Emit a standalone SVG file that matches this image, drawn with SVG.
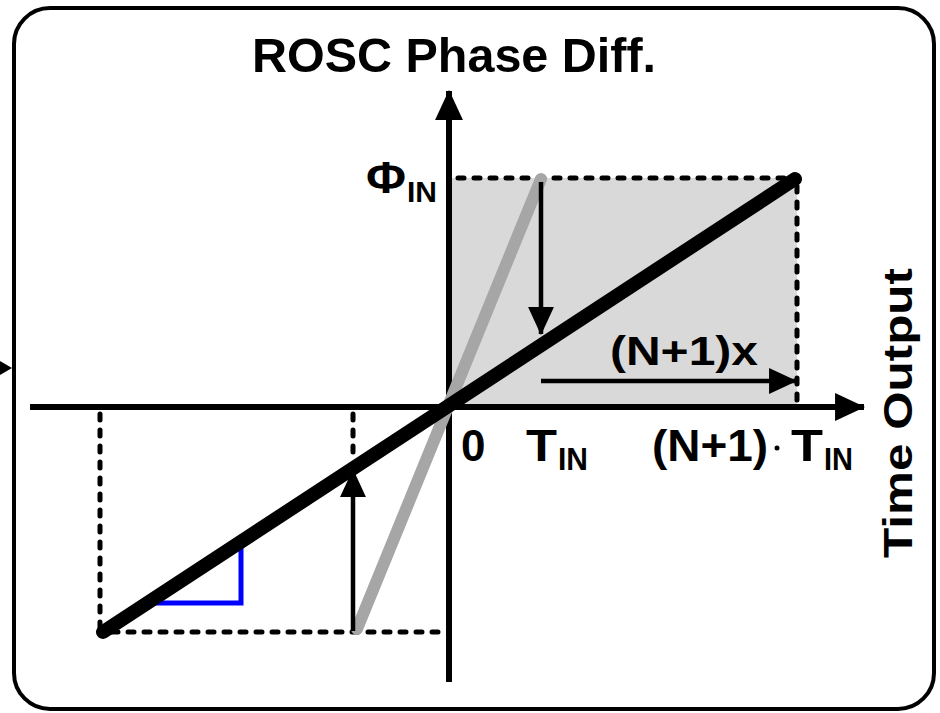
<svg xmlns="http://www.w3.org/2000/svg" width="940" height="713" viewBox="0 0 940 713">
  <style>
    .t { font-family: "Liberation Sans", Arial, Helvetica, sans-serif; font-weight: bold; fill: #000; }
    .dash { fill: none; stroke: #000; stroke-width: 5; stroke-dasharray: 6 10; stroke-linecap: round; }
    .axis { fill: none; stroke: #000; stroke-width: 6; }
    .arr { fill: none; stroke: #000; stroke-width: 4.5; }
  </style>
  <defs>
    <marker id="ah-axis" markerUnits="userSpaceOnUse" markerWidth="30" markerHeight="30" viewBox="0 0 28 26" refX="27" refY="13" orient="auto">
      <polygon points="0,0 28,13 0,26" fill="#000"/>
    </marker>
    <marker id="ah" markerUnits="userSpaceOnUse" markerWidth="28" markerHeight="28" viewBox="0 0 26 24" refX="25" refY="12" orient="auto">
      <polygon points="0,0 26,12 0,24" fill="#000"/>
    </marker>
  </defs>
  <rect width="940" height="713" fill="#fff"/>

  <g id="frame">
    <rect x="14" y="8" width="920" height="701" rx="36" ry="36" fill="none" stroke="#000" stroke-width="4"/>
    <polygon points="0,361 12,368 0,375" fill="#000"/>
  </g>

  <g id="region">
    <rect x="450" y="178" width="347" height="229" fill="#d9d9d9"/>
  </g>

  <g id="guides">
    <line class="dash" x1="458" y1="178" x2="797" y2="178"/>
    <line class="dash" x1="797" y1="186" x2="797" y2="407"/>
    <line class="dash" x1="100" y1="414" x2="100" y2="632"/>
    <line class="dash" x1="112" y1="632" x2="446" y2="632"/>
    <line class="dash" x1="353" y1="414" x2="353" y2="462"/>
  </g>

  <g id="axes">
    <line class="axis" x1="30" y1="407" x2="864" y2="407" marker-end="url(#ah-axis)"/>
    <line class="axis" x1="449" y1="682" x2="449" y2="91" marker-end="url(#ah-axis)"/>
  </g>

  <g id="slope">
    <polyline points="150,603 241,603 241,545" fill="none" stroke="#0000ff" stroke-width="5"/>
  </g>

  <g id="curves">
    <line x1="357" y1="629" x2="541" y2="179" stroke="#a6a6a6" stroke-width="12" stroke-linecap="round"/>
    <line x1="103" y1="632" x2="795" y2="179" stroke="#000" stroke-width="14" stroke-linecap="round"/>
  </g>

  <g id="connectors">
    <line class="arr" x1="541" y1="182" x2="541" y2="334" marker-end="url(#ah)"/>
    <line class="arr" x1="353" y1="631" x2="353" y2="470" marker-end="url(#ah)"/>
    <line class="arr" x1="541" y1="381" x2="796" y2="381" marker-end="url(#ah)"/>
  </g>

  <g id="labels">
    <text class="t" x="252" y="72" font-size="48" textLength="404" lengthAdjust="spacingAndGlyphs">ROSC Phase Diff.</text>
    <text class="t" x="366" y="193" font-size="44" textLength="40" lengthAdjust="spacingAndGlyphs">Φ</text>
    <text class="t" x="407" y="202" font-size="29" textLength="30" lengthAdjust="spacingAndGlyphs">IN</text>
    <text class="t" x="461" y="461" font-size="44">0</text>
    <text class="t" x="526" y="461" font-size="44" textLength="31" lengthAdjust="spacingAndGlyphs">T</text>
    <text class="t" x="558" y="470" font-size="32" textLength="30" lengthAdjust="spacingAndGlyphs">IN</text>
    <text class="t" x="652" y="461" font-size="44" textLength="116" lengthAdjust="spacingAndGlyphs">(N+1)</text>
    <circle cx="777" cy="448" r="2.5" fill="#000"/>
    <text class="t" x="791" y="461" font-size="44" textLength="32" lengthAdjust="spacingAndGlyphs">T</text>
    <text class="t" x="824" y="470" font-size="32" textLength="29" lengthAdjust="spacingAndGlyphs">IN</text>
    <text class="t" x="610" y="365" font-size="40" textLength="148" lengthAdjust="spacingAndGlyphs">(N+1)x</text>
    <text class="t" transform="translate(912,413) rotate(-90)" x="0" y="0" font-size="41" text-anchor="middle" textLength="290" lengthAdjust="spacingAndGlyphs">Time Output</text>
  </g>
</svg>
